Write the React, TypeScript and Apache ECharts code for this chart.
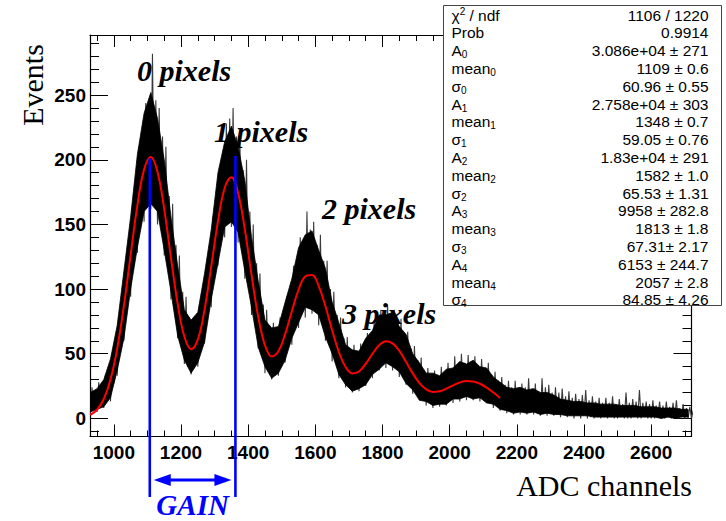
import { useEffect, useRef } from "react";
import * as echarts from "echarts";

// ---------- axis ranges & ticks ----------
const X_MIN = 929;
const X_MAX = 2720;
const Y_MIN = -14;
const Y_MAX = 296.5;

const xMajorTicks = [1000, 1200, 1400, 1600, 1800, 2000, 2200, 2400, 2600];
const xMinorTicks: number[] = [];
for (let v = 950; v <= 2700; v += 50) xMinorTicks.push(v);
const yMajorTicks = [0, 50, 100, 150, 200, 250];
const yMinorTicks: number[] = [];
for (let v = -10; v <= 290; v += 10) yMinorTicks.push(v);

// ---------- histogram spike envelope (10-channel bins from 930) ----------
const HIST_START = 930;
const HIST_STEP = 10;
const histHigh = [
  24, 18, 28, 22, 34, 36, 50, 58, 78, 88,
  116, 128, 162, 172, 210, 212, 244, 238, 282, 246,
  240, 218, 210, 172, 166, 134, 126, 98, 94, 78,
  76, 72, 88, 94, 116, 128, 156, 164, 194, 200,
  228, 232, 240, 218, 222, 192, 200, 160, 150, 120,
  112, 88, 84, 70, 74, 64, 78, 76, 94, 96,
  118, 120, 140, 136, 160, 146, 152, 134, 142, 122,
  122, 100, 98, 80, 78, 62, 63, 52, 57, 50,
  58, 54, 66, 64, 76, 72, 84, 78, 88, 78,
  84, 74, 77, 64, 67, 54, 56, 45, 47, 37,
  39, 33, 37, 33, 40, 35, 43, 38, 48, 42,
  50, 43, 49, 43, 48, 41, 46, 38, 43, 34,
  36, 29, 32, 26, 29, 24, 29, 23, 27, 24,
  31, 23, 27, 21, 31, 24, 26, 20, 24, 20,
  23, 17, 21, 16, 19, 15, 18, 22, 14, 17,
  13, 16, 12, 16, 12, 17, 11, 15, 11, 20,
  12, 15, 13, 22, 12, 13, 11, 14, 10, 13,
  10, 13, 9, 12, 14, 8, 11, 8, 9, 6,
];
const histLow = [
  3, 7, 5, 10, 8, 14, 13, 27, 33, 53,
  60, 84, 94, 119, 128, 150, 152, 168, 162, 166,
  150, 148, 126, 118, 92, 84, 62, 58, 42, 40,
  34, 39, 40, 53, 58, 80, 86, 110, 118, 138,
  140, 155, 148, 152, 136, 132, 108, 104, 80, 73,
  54, 49, 35, 36, 30, 34, 33, 42, 43, 55,
  57, 71, 70, 82, 78, 87, 81, 83, 72, 73,
  60, 59, 44, 43, 31, 31, 24, 25, 20, 24,
  21, 27, 25, 32, 31, 38, 37, 42, 39, 43,
  37, 40, 32, 34, 26, 28, 19, 21, 14, 16,
  10, 12, 8, 11, 9, 12, 10, 14, 12, 16,
  13, 17, 14, 18, 14, 17, 13, 16, 12, 14,
  8, 10, 6, 8, 4, 6, 3, 5, 3, 5,
  3, 5, 3, 4, 2, 4, 2, 4, 2, 3,
  1, 3, 1, 2, 0, 2, 0, 2, 0, 1,
  0, 1, 0, 1, 0, 1, 0, 0, 1, 0,
  0, 0, 1, 0, 0, 1, 0, 0, 0, 1,
  0, 0, 1, 0, 0, 0, 1, 0, 0, 0,
];

// ---------- histogram dense core band (20-channel steps from 930) ----------
const CORE_START = 930;
const CORE_STEP = 20;
const coreLow = [
  5, 7, 9, 16, 37, 62, 100, 132, 160, 166,
  160, 130, 98, 64, 45, 35, 43, 59, 92, 120,
  148, 152, 144, 114, 86, 55, 40, 31, 35, 45,
  62, 74, 86, 84, 80, 63, 50, 34, 26, 21,
  23, 26, 34, 38, 43, 40, 36, 27, 22, 14,
  13, 10, 11, 11, 15, 15, 17, 15, 16, 12,
  11, 7, 6, 4, 5, 4, 5, 3, 4, 3,
  3, 2, 2, 2, 2, 1, 1, 1, 1, 1,
  1, 1, 1, 1, 1, 0, 1, 0, 1, 1,
];
const coreHigh = [
  20, 23, 30, 46, 72, 114, 156, 204, 236, 252,
  232, 200, 156, 118, 84, 76, 82, 112, 146, 190,
  214, 226, 210, 184, 140, 106, 76, 70, 71, 90,
  108, 132, 142, 145, 130, 116, 90, 74, 57, 53,
  52, 62, 68, 80, 80, 82, 71, 65, 50, 43,
  35, 35, 33, 38, 39, 44, 42, 45, 40, 39,
  32, 28, 24, 23, 24, 22, 23, 20, 20, 18,
  15, 14, 13, 13, 12, 12, 11, 11, 11, 10,
  10, 10, 9, 9, 9, 8, 8, 8, 7, 7,
];

// ---------- fit curve (20-channel steps from 930) ----------
const FIT_START = 930;
const FIT_STEP = 20;
const fitValues = [
  2.7, 6.7, 15.0, 30.1, 54.0, 87.2, 126.4, 164.6, 192.4, 202.1,
  190.6, 161.8, 124.4, 88.7, 63.3, 53.5, 60.9, 84.1, 117.5, 152.4,
  178.2, 186.5, 174.4, 146.2, 111.0, 78.6, 56.6, 47.9, 51.9, 65.2,
  82.9, 99.5, 109.8, 110.9, 102.3, 86.7, 68.2, 51.4, 39.7, 34.8,
  36.3, 42.3, 50.0, 56.6, 59.7, 58.0, 52.2, 43.8, 34.8, 27.3,
  22.5, 20.5, 21.0, 23.0, 25.6, 27.8, 28.9, 28.6, 26.8, 23.8,
  20.0, 15.8,
];

// ---------- annotations ----------
const gainChannels = [1107, 1362];
const gainTops = [201, 203];
const peakLabels = ["0 pixels", "1 pixels", "2 pixels", "3 pixels"];

// ---------- stats box ----------
const statsLabels = [
  "{n|χ}{sup|2}{n| / ndf}",
  "{n|Prob}",
  "{n|A}{sub|0}",
  "{n|mean}{sub|0}",
  "{n|σ}{sub|0}",
  "{n|A}{sub|1}",
  "{n|mean}{sub|1}",
  "{n|σ}{sub|1}",
  "{n|A}{sub|2}",
  "{n|mean}{sub|2}",
  "{n|σ}{sub|2}",
  "{n|A}{sub|3}",
  "{n|mean}{sub|3}",
  "{n|σ}{sub|3}",
  "{n|A}{sub|4}",
  "{n|mean}{sub|4}",
  "{n|σ}{sub|4}",
];
const statsValues = [
  "1106 / 1220",
  "0.9914",
  "3.086e+04 ± 271",
  "1109 ± 0.6",
  "60.96 ± 0.55",
  "2.758e+04 ± 303",
  "1348 ± 0.7",
  "59.05 ± 0.76",
  "1.83e+04 ± 291",
  "1582 ± 1.0",
  "65.53 ± 1.31",
  "9958 ± 282.8",
  "1813 ± 1.8",
  "67.31± 2.17",
  "6153 ± 244.7",
  "2057 ± 2.8",
  "84.85 ± 4.26",
];

const SANS = '"Liberation Sans", Arial, Helvetica, sans-serif';
const SERIF = '"Liberation Serif", "Times New Roman", Times, serif';
const AXIS_COLOR = "#000";

function xAxisDef(position: "top" | "bottom", ticks: number[], len: number, showLine: boolean, showLabel: boolean) {
  return {
    type: "value",
    min: X_MIN,
    max: X_MAX,
    position,
    axisLine: { show: showLine, onZero: false, lineStyle: { color: AXIS_COLOR, width: 1.2 } },
    axisTick: { show: true, inside: true, length: len, customValues: ticks, lineStyle: { color: AXIS_COLOR, width: 1 } },
    axisLabel: {
      show: showLabel,
      customValues: ticks,
      formatter: (v: number) => String(v),
      color: "#000",
      fontFamily: SANS,
      fontWeight: "bold",
      fontSize: 19,
      margin: 6,
    },
    splitLine: { show: false },
  };
}

function yAxisDef(position: "left" | "right", ticks: number[], len: number, showLine: boolean, showLabel: boolean) {
  return {
    type: "value",
    min: Y_MIN,
    max: Y_MAX,
    position,
    axisLine: { show: showLine, onZero: false, lineStyle: { color: AXIS_COLOR, width: 1.2 } },
    axisTick: { show: true, inside: true, length: len, customValues: ticks, lineStyle: { color: AXIS_COLOR, width: 1 } },
    axisLabel: {
      show: showLabel,
      customValues: ticks,
      formatter: (v: number) => String(v),
      color: "#000",
      fontFamily: SANS,
      fontWeight: "bold",
      fontSize: 19,
      margin: 4,
    },
    splitLine: { show: false },
  };
}

export default function App() {
  const ref = useRef<HTMLDivElement>(null);

  useEffect(() => {
    if (!ref.current) return;
    const chart = echarts.init(ref.current, null, { renderer: "svg" });

    const histPoints: number[][] = [];
    histHigh.forEach((h, i) => {
      const ch = HIST_START + i * HIST_STEP;
      histPoints.push([ch, histLow[i]]);
      histPoints.push([ch + HIST_STEP / 2, h]);
    });
    const fitPoints = fitValues.map((v, i) => [FIT_START + i * FIT_STEP, v]);

    const coreRender = (_params: any, api: any) => {
      const upper = coreHigh.map((v, i) => api.coord([CORE_START + i * CORE_STEP, v]));
      const lower = coreLow.map((v, i) => api.coord([CORE_START + i * CORE_STEP, v])).reverse();
      return {
        type: "polygon",
        shape: { points: upper.concat(lower) },
        style: { fill: "#000", stroke: "#000", lineWidth: 0.8 },
      };
    };

    chart.setOption({
      animation: false,
      backgroundColor: "#fff",
      grid: { left: 90, right: 34.5, top: 35, bottom: 84.5 },
      xAxis: [
        xAxisDef("bottom", xMajorTicks, 12, true, true),
        xAxisDef("bottom", xMinorTicks, 6, false, false),
        xAxisDef("top", xMajorTicks, 12, true, false),
        xAxisDef("top", xMinorTicks, 6, false, false),
      ],
      yAxis: [
        yAxisDef("left", yMajorTicks, 18, true, true),
        yAxisDef("left", yMinorTicks, 9, false, false),
        yAxisDef("right", yMajorTicks, 18, true, false),
        yAxisDef("right", yMinorTicks, 9, false, false),
      ],
      series: [
        {
          type: "line",
          name: "data spikes",
          data: histPoints,
          showSymbol: false,
          symbol: "none",
          clip: true,
          lineStyle: { color: "#3a3a3a", width: 1.1 },
          z: 1,
        },
        {
          type: "custom",
          name: "data core",
          data: [[CORE_START, coreLow[0]]],
          encode: { x: 0, y: 1 },
          renderItem: coreRender,
          clip: true,
          silent: true,
          z: 2,
        },
        {
          type: "line",
          name: "fit",
          data: fitPoints,
          showSymbol: false,
          symbol: "none",
          smooth: 0.4,
          clip: true,
          lineStyle: { color: "#ff0000", width: 2 },
          z: 3,
        },
      ],
    });

    const gx = gainChannels.map((c) => chart.convertToPixel({ xAxisIndex: 0 }, c) as number);
    const gy = gainTops.map((v) => chart.convertToPixel({ yAxisIndex: 0 }, v) as number);
    const BLUE = "#0000ff";
    const arrowY = 480;
    const lineBottom = 497;

    const elements: any[] = [];

    elements.push({
      type: "text",
      x: 32,
      y: 85,
      rotation: Math.PI / 2,
      z: 50,
      style: { text: "Events", font: `30px ${SERIF}`, fill: "#000", align: "center", verticalAlign: "middle", textAlign: "center", textVerticalAlign: "middle" },
    });
    elements.push({
      type: "text",
      x: 692,
      y: 485,
      z: 50,
      style: { text: "ADC channels", font: `30px ${SERIF}`, fill: "#000", align: "right", verticalAlign: "middle", textAlign: "right", textVerticalAlign: "middle" },
    });

    const peakPos = [
      [137, 70],
      [214, 131],
      [322, 208],
      [342, 313],
    ];
    peakLabels.forEach((t, i) => {
      elements.push({
        type: "text",
        x: peakPos[i][0],
        y: peakPos[i][1],
        z: 50,
        style: { text: t, font: `italic bold 30px ${SERIF}`, fill: "#000", align: "left", verticalAlign: "middle", textAlign: "left", textVerticalAlign: "middle" },
      });
    });

    gx.forEach((x, i) => {
      elements.push({
        type: "line",
        z: 40,
        shape: { x1: x, y1: gy[i], x2: x, y2: lineBottom },
        style: { stroke: BLUE, lineWidth: 2.6 },
      });
    });
    elements.push({
      type: "line",
      z: 40,
      shape: { x1: gx[0] + 12, y1: arrowY, x2: gx[1] - 12, y2: arrowY },
      style: { stroke: BLUE, lineWidth: 3 },
    });
    elements.push({
      type: "polygon",
      z: 40,
      shape: { points: [[gx[0] + 4, arrowY], [gx[0] + 21, arrowY - 6], [gx[0] + 21, arrowY + 6]] },
      style: { fill: BLUE },
    });
    elements.push({
      type: "polygon",
      z: 40,
      shape: { points: [[gx[1] - 4, arrowY], [gx[1] - 21, arrowY - 6], [gx[1] - 21, arrowY + 6]] },
      style: { fill: BLUE },
    });
    elements.push({
      type: "text",
      x: (gx[0] + gx[1]) / 2,
      y: 505,
      z: 40,
      style: { text: "GAIN", font: `italic bold 29px ${SERIF}`, fill: BLUE, align: "center", verticalAlign: "middle", textAlign: "center", textVerticalAlign: "middle" },
    });

    elements.push({
      type: "rect",
      z: 100,
      shape: { x: 443.5, y: 5.5, width: 278, height: 300 },
      style: { fill: "#fff", stroke: "#444", lineWidth: 1 },
    });
    const rowTop = 15;
    const rowStep = 17.8;
    statsLabels.forEach((lab, i) => {
      const y = rowTop + i * rowStep;
      elements.push({
        type: "text",
        x: 451.5,
        y,
        z: 101,
        style: {
          text: lab,
          fill: "#000",
          align: "left",
          verticalAlign: "middle",
          textAlign: "left",
          textVerticalAlign: "middle",
          rich: {
            n: { fontFamily: SANS, fontSize: 15.5, lineHeight: 18, fill: "#000", color: "#000" },
            sub: { fontFamily: SANS, fontSize: 10, lineHeight: 9, verticalAlign: "bottom", fill: "#000", color: "#000" },
            sup: { fontFamily: SANS, fontSize: 10, lineHeight: 9, verticalAlign: "top", fill: "#000", color: "#000" },
          },
        },
      });
      elements.push({
        type: "text",
        x: 708.5,
        y,
        z: 101,
        style: {
          text: statsValues[i],
          font: `15.5px ${SANS}`,
          fill: "#000",
          align: "right",
          verticalAlign: "middle",
          textAlign: "right",
          textVerticalAlign: "middle",
        },
      });
    });

    chart.setOption({ graphic: { elements } });

    return () => {
      chart.dispose();
    };
  }, []);

  return (
    <div
      ref={ref}
      style={{ position: "fixed", left: 0, top: 0, width: 726, height: 521, background: "#fff" }}
    />
  );
}
